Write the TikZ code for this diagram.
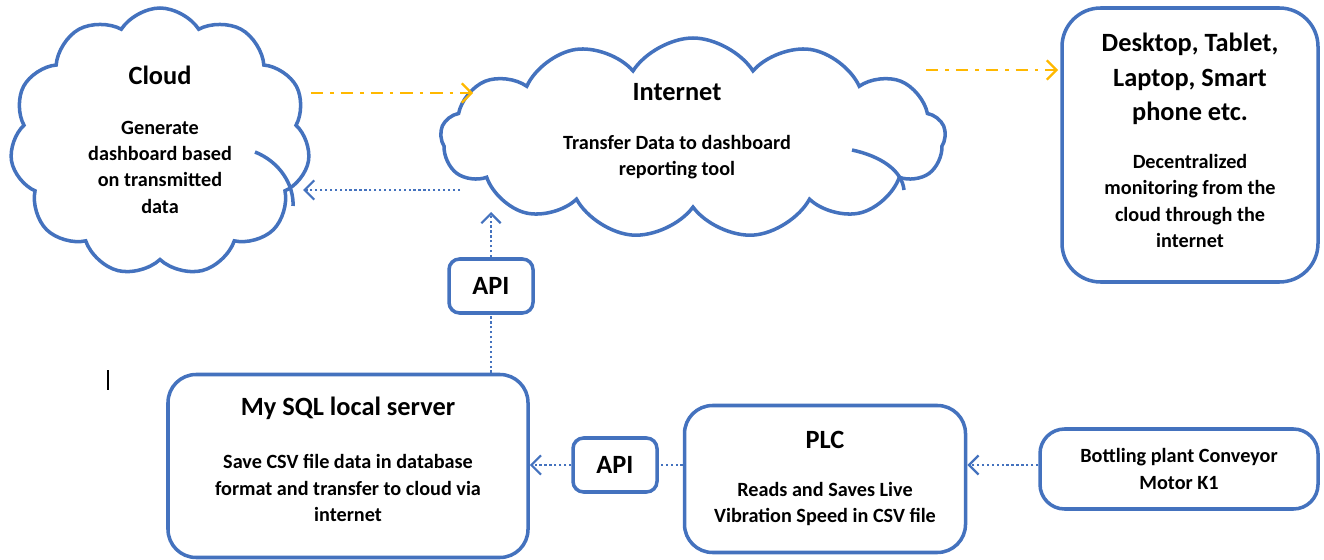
\documentclass[tikz,border=0pt]{standalone}
\usepackage{fontspec}
\setmainfont{Carlito}
\usetikzlibrary{shapes.symbols,arrows.meta}
\definecolor{boxblue}{RGB}{68,114,190}
\definecolor{flowgold}{RGB}{255,184,0}
\tikzset{
  puff/.style={cloud,cloud puffs=11,cloud puff arc=115,cloud ignores aspect,draw=boxblue,line width=2pt,fill=white},
  rbox/.style={draw=boxblue,line width=2pt,rounded corners=16pt,fill=white,align=center,font=\bfseries\fontsize{11.5}{15}\selectfont},
  head/.style={align=center,font=\bfseries\fontsize{15}{19.5}\selectfont},
  body/.style={align=center,font=\bfseries\fontsize{11.5}{15}\selectfont},
  apibox/.style={draw=boxblue,line width=2pt,rounded corners=6pt,fill=white,minimum width=84*0.02cm,minimum height=54*0.02cm,font=\bfseries\fontsize{15}{16}\selectfont},
  dotflow/.style={draw=boxblue,line width=1.3pt,dash pattern=on 1.3pt off 1.5pt},
  webflow/.style={draw=flowgold,line width=1.3pt,dash pattern=on 7pt off 4pt on 2pt off 4pt},
  tip/.style={-{Straight Barb[length=5.5pt,width=11pt,line width=1.3pt]}}
}
\begin{document}
\begin{tikzpicture}[x=0.02cm,y=-0.02cm]
\useasboundingbox (0,0) rectangle (1324,560);
% clouds
\node[puff,minimum width=300*0.02cm,minimum height=268*0.02cm] (cloudL) at (160,142) {};
\draw[boxblue,line width=2pt] (255,152) .. controls (280,162) and (294,185) .. (293,206);
\node[head] (cloudLT) at (160,75) {Cloud};
\node[body] (cloudLB) at (160,167) {Generate\\dashboard based\\on transmitted\\data};
\node[puff,minimum width=505*0.02cm,minimum height=200*0.02cm,cloud puffs=13] (net) at (693,138) {};
\draw[boxblue,line width=2pt] (852,150) .. controls (880,156) and (902,170) .. (904,190);
\node[head] (netT) at (677,92) {Internet};
\node[body] (netB) at (677,157) {Transfer Data to dashboard\\reporting tool};
% devices
\node[rbox,minimum width=256*0.02cm,minimum height=274*0.02cm,rounded corners=22pt] (dev) at (1190,145) {};
\node[head] (devT) at (1190,79) {Desktop, Tablet,\\Laptop, Smart\\phone etc.};
\node[body] (devB) at (1190,201) {Decentralized\\monitoring from the\\cloud through the\\internet};
% lower row
\node[rbox,minimum width=360*0.02cm,minimum height=183*0.02cm] (sql) at (348,466) {};
\node[head] (sqlT) at (348,408) {My SQL local server};
\node[body] (sqlB) at (348,488) {Save CSV file data in database\\format and transfer to cloud via\\internet};
\node[rbox,minimum width=281*0.02cm,minimum height=147*0.02cm] (plc) at (825,479) {};
\node[head] (plcT) at (825,440) {PLC};
\node[body] (plcB) at (825,504) {Reads and Saves Live\\Vibration Speed in CSV file};
\node[rbox,minimum width=278*0.02cm,minimum height=80*0.02cm,rounded corners=14pt] (motor) at (1179,469) {Bottling plant Conveyor\\Motor K1};
\node[apibox] (apiUp) at (491,286) {API};
\node[apibox] (apiLow) at (615,465) {API};
% connectors
\coordinate (netIn) at (473,93);
\coordinate (netOut) at (926,70);
\coordinate (devIn) at (1058,70);
\draw[webflow,tip] (cloudL.east |- netIn) ++(2,0) -- (netIn);
\draw[webflow,tip] (netOut) -- (devIn);
\coordinate (netL) at (460,190);
\coordinate (cloudR) at (303,190);
\draw[dotflow,tip] (netL) -- (cloudR);
\draw[dotflow] (sql.north -| apiUp) -- (apiUp.south);
\draw[dotflow,tip] (apiUp.north) -- (491,212);
\draw[dotflow] (plc.west |- apiLow) -- (apiLow.east);
\draw[dotflow,tip] (apiLow.west) -- (sql.east |- apiLow);
\draw[dotflow,tip] (motor.west |- apiLow) -- (plc.east |- apiLow);
% stray mark
\draw[line width=1.2pt] (108,370) -- (108,390);
\end{tikzpicture}
\end{document}
